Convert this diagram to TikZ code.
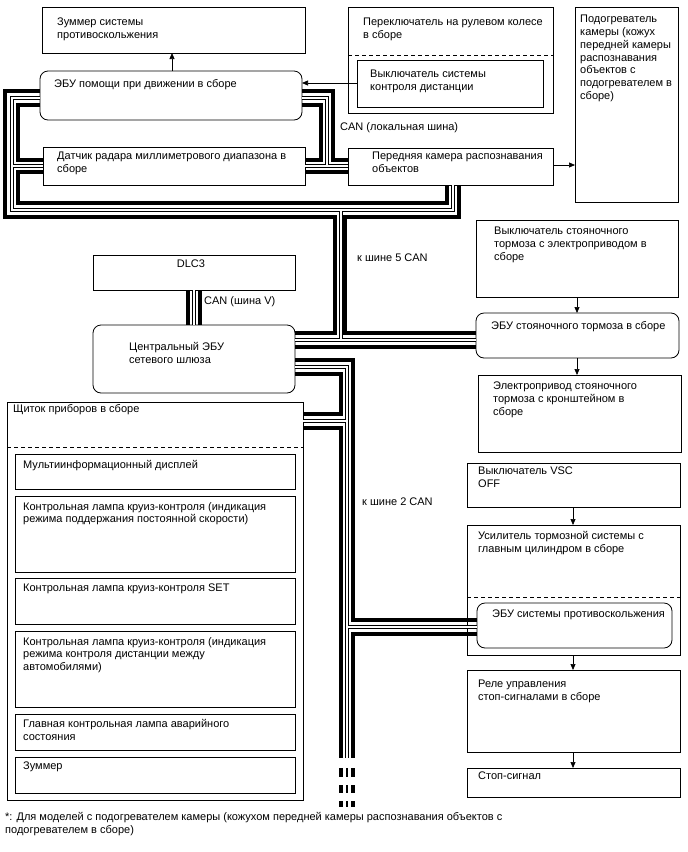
\documentclass[tikz,border=0pt]{standalone}
\usepackage{fontspec}
\setmainfont{Liberation Sans}
\usetikzlibrary{arrows.meta}
\tikzset{
  box/.style={draw, line width=0.8pt, inner sep=0pt, outer sep=0pt},
  rbox/.style={box, rounded corners=8pt},
  txt/.style={anchor=north west, inner sep=0pt, align=left, font=\fontsize{11}{12.8}\selectfont},
  arr/.style={line width=0.7pt, -{Triangle[length=6pt,width=5pt]}},
  thickbus/.style={line width=3.5pt, line join=miter},
  hollowout/.style={line width=4.4pt, line join=miter},
  hollowin/.style={line width=2.2pt, white, line join=miter},
  dashline/.style={line width=0.8pt, dash pattern=on 4pt off 3pt}
}
\newcommand\bx[6][box]{\node[#1, minimum width=#5pt-#3pt, minimum height=#6pt-#4pt, anchor=north west] (#2) at (#3,#4) {};}
\newcommand\tx[4]{\node[txt] (#1) at (#2,#3) {#4};}
\begin{document}
\begin{tikzpicture}[x=1pt,y=-1pt]
\useasboundingbox[fill=white] (0,0) rectangle (688,852);
% boxes
\bx{Zb}{42}{7}{305}{53}
\bx[rbox]{A}{40}{71}{302}{120}
\bx{SW}{348}{7}{553}{113}
\bx{SWi}{357}{60}{543}{107}
\bx{H}{575}{7}{678}{202}
\bx{C}{348}{148}{553}{185}
\bx{R}{43}{147}{305}{185}
\bx{D}{93}{255}{295}{290}
\bx[rbox]{G}{93}{325}{295}{393}
\bx{PS}{476}{220}{678}{297}
\bx[rbox]{P}{476}{313}{679}{358}
\bx{PA}{478}{375}{681}{452}
\bx{V}{467}{463}{680}{507}
\bx{B}{467}{525}{680}{655}
\bx[rbox]{E}{477}{603}{672}{648}
\bx{RL}{467}{670}{680}{752}
\bx{SS}{467}{768}{680}{797}
\bx{M}{7}{402}{303}{800}
\bx{Ma}{15}{454}{295}{489}
\bx{Mb}{15}{496}{295}{572}
\bx{Mc}{15}{578}{295}{624}
\bx{Md}{15}{631}{295}{707}
\bx{Me}{15}{714}{295}{750}
\bx{Mf}{15}{757}{295}{793}
% dashed separators
\draw[dashline] (SW.west |- 0,55) -- (SW.east |- 0,55);
\draw[dashline] (B.west |- 0,597) -- (B.east |- 0,597);
\draw[dashline] (M.west |- 0,447) -- (M.east |- 0,447);
% texts
\tx{tZb}{57}{18}{Зуммер системы\\противоскольжения}
\tx{tA}{54}{79}{ЭБУ помощи при движении в сборе}
\tx{tSW}{363}{18}{Переключатель на рулевом колесе\\в сборе}
\tx{tSWi}{370}{70}{Выключатель системы\\контроля дистанции}
\tx{tH}{580}{15}{Подогреватель\\камеры (кожух\\передней камеры\\распознавания\\объектов с\\подогревателем в\\сборе)}
\tx{tCANl}{340}{122}{CAN (локальная шина)}
\tx{tC}{372}{152}{Передняя камера распознавания\\объектов}
\tx{tR}{57}{152}{Датчик радара миллиметрового диапазона в\\сборе}
\node[txt, anchor=north] (tD) at (191,260) {DLC3};
\tx{tCANv}{204}{296}{CAN (шина V)}
\tx{tG}{129}{342}{Центральный ЭБУ\\сетевого шлюза}
\tx{tPS}{494}{227}{Выключатель стояночного\\тормоза с электроприводом в\\сборе}
\tx{t5}{357}{254}{к шине 5 CAN}
\tx{tP}{491}{321}{ЭБУ стояночного тормоза в сборе}
\tx{tPA}{493}{382}{Электропривод стояночного\\тормоза с кронштейном в\\сборе}
\tx{tV}{478}{467}{Выключатель VSC\\OFF}
\tx{t2}{362}{498}{к шине 2 CAN}
\tx{tB}{478}{531}{Усилитель тормозной системы с\\главным цилиндром в сборе}
\tx{tE}{492}{610}{ЭБУ системы противоскольжения}
\tx{tM}{13}{404}{Щиток приборов в сборе}
\tx{tMa}{23}{460}{Мультиинформационный дисплей}
\tx{tMb}{23}{502}{Контрольная лампа круиз-контроля (индикация\\режима поддержания постоянной скорости)}
\tx{tMc}{23}{584}{Контрольная лампа круиз-контроля SET}
\tx{tMd}{23}{637}{Контрольная лампа круиз-контроля (индикация\\режима контроля дистанции между\\автомобилями)}
\tx{tMe}{23}{719}{Главная контрольная лампа аварийного\\состояния}
\tx{tMf}{23}{762}{Зуммер}
\tx{tRL}{478}{680}{Реле управления\\стоп-сигналами в сборе}
\tx{tSS}{478}{772}{Стоп-сигнал}
\tx{tF}{5}{812}{*: Для моделей с подогревателем камеры (кожухом передней камеры распознавания объектов с\\подогревателем в сборе)}
% arrows
\draw[arr] (A.north -| 172,0) -- (Zb.south -| 172,0);
\draw[arr] (SWi.west |- 0,83) -- (A.east |- 0,83);
\draw[arr] (C.east |- 0,165) -- (H.west |- 0,165);
\draw[arr] (PS.south -| 577,0) -- (P.north -| 577,0);
\draw[arr] (P.south -| 577,0) -- (PA.north -| 577,0);
\draw[arr] (V.south -| 573,0) -- (B.north -| 573,0);
\draw[arr] (B.south -| 573,0) -- (RL.north -| 573,0);
\draw[arr] (RL.south -| 573,0) -- (SS.north -| 573,0);
% hollow bus lines (two passes)
\newcommand\hollowpaths{%
  (A.west |- 0,98) -- (12,98) -- (12,210) -- (453,210) -- (C.south -| 453,0)
  (12,166) -- (R.west |- 0,166)
  (341,210) -- (341,340)
  (G.east |- 0,340) -- (P.west |- 0,340)
  (A.east |- 0,98) -- (327,98) -- (327,166)
  (R.east |- 0,166) -- (C.west |- 0,166)
  (D.south -| 194,0) -- (G.north -| 194,0)
  (G.east |- 0,367) -- (347,367) -- (347,758)
  (M.east |- 0,421) -- (347,421)
  (347,627) -- (E.west |- 0,627)
}
\draw[hollowout] \hollowpaths;
\draw[hollowin] \hollowpaths;
% thick bus lines
\draw[thickbus] (A.west |- 0,91) -- (5,91) -- (5,217) -- (335,217) -- (335,333) -- (G.east |- 0,333);
\draw[thickbus] (A.west |- 0,105) -- (18,105) -- (18,160) -- (R.west |- 0,160);
\draw[thickbus] (R.west |- 0,172) -- (18,172) -- (18,203) -- (447,203) -- (C.south -| 447,0);
\draw[thickbus] (C.south -| 459,0) -- (459,217) -- (345,217) -- (345,333) -- (P.west |- 0,333);
\draw[thickbus] (A.east |- 0,91) -- (333,91) -- (333,160) -- (C.west |- 0,160);
\draw[thickbus] (A.east |- 0,105) -- (321,105) -- (321,160) -- (R.east |- 0,160);
\draw[thickbus] (R.east |- 0,172) -- (C.west |- 0,172);
\draw[thickbus] (G.east |- 0,347) -- (P.west |- 0,347);
\draw[thickbus] (D.south -| 188,0) -- (G.north -| 188,0);
\draw[thickbus] (D.south -| 200,0) -- (G.north -| 200,0);
\draw[thickbus] (G.east |- 0,360) -- (353,360) -- (353,620) -- (E.west |- 0,620);
\draw[thickbus] (G.east |- 0,374) -- (341,374) -- (341,414) -- (M.east |- 0,414);
\draw[thickbus] (M.east |- 0,428) -- (341,428) -- (341,758);
\draw[thickbus] (E.west |- 0,634) -- (353,634) -- (353,758);
% broken continuation at the bottom
\foreach \ya/\yb in {768/777,785/793,801/807}{
  \draw[thickbus] (341,\ya) -- (341,\yb);
  \draw[line width=1.6pt] (347,\ya) -- (347,\yb);
  \draw[thickbus] (353,\ya) -- (353,\yb);
}
\end{tikzpicture}
\end{document}
